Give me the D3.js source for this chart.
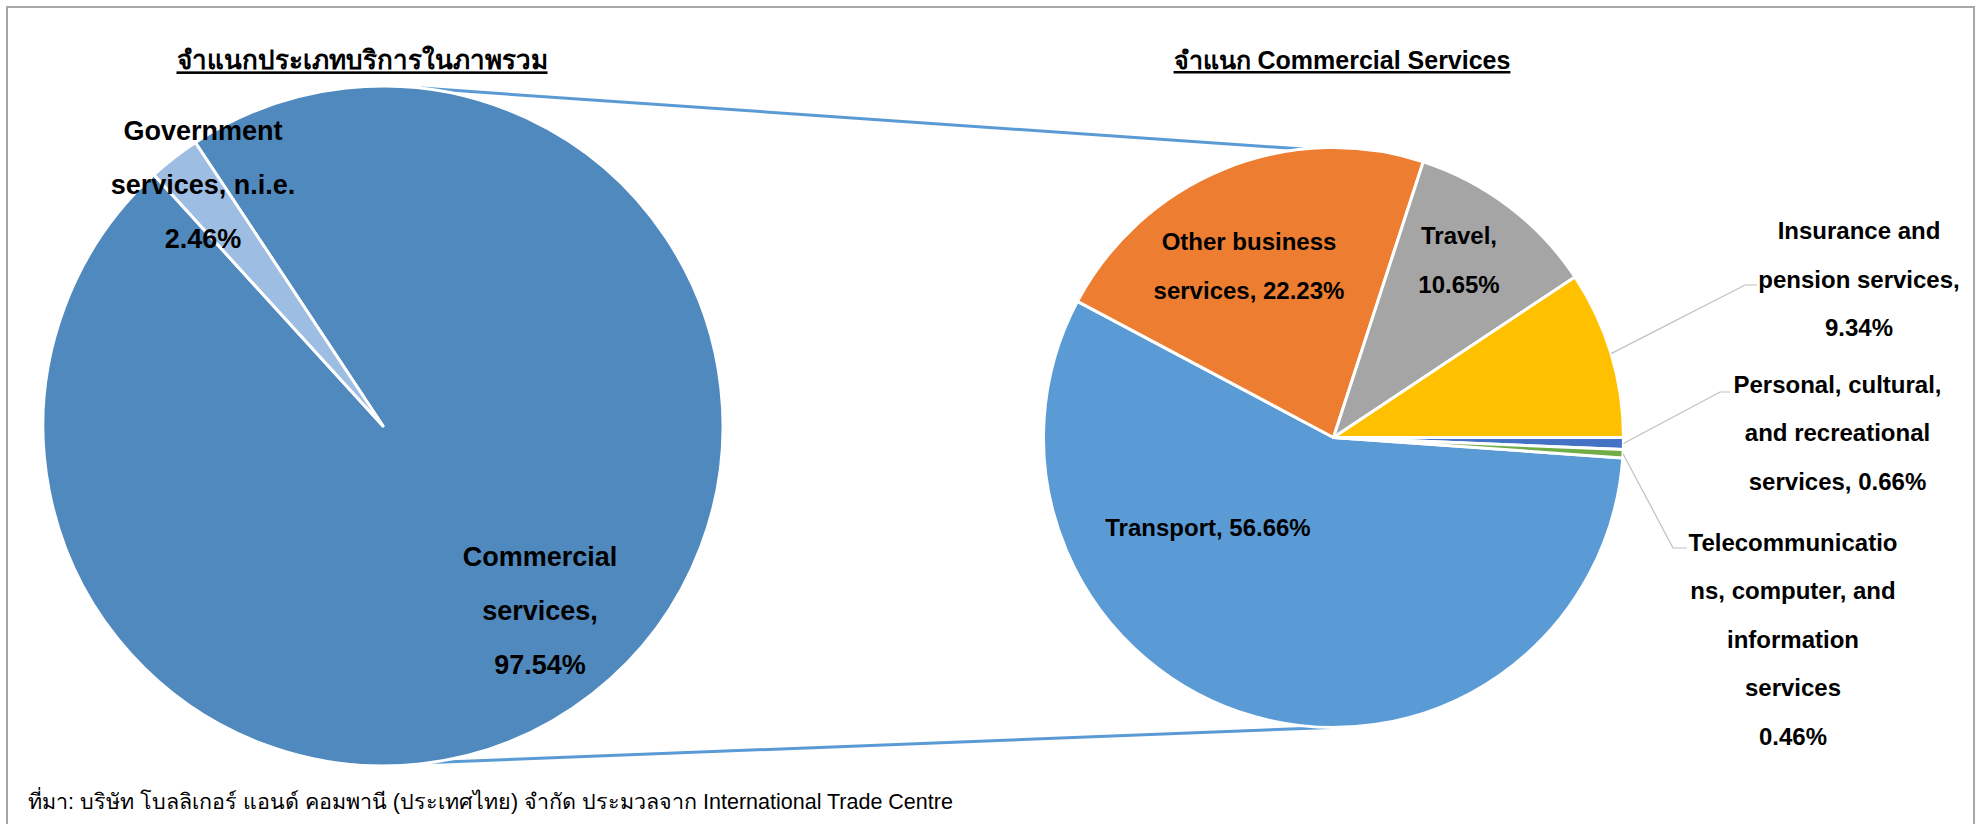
<!DOCTYPE html>
<html>
<head>
<meta charset="utf-8">
<script src="https://cdn.jsdelivr.net/npm/d3@7"></script>
<style>
  body { margin: 0; background: #fff; }
  svg text { font-family: "Liberation Sans", Arial, sans-serif; fill: #000; }
</style>
</head>
<body>
<div class="pie-of-pie"></div>
<script>
// overall split
const overallCategories = ["Commercial services", "Government services, n.i.e."];
const overallValues = [97.54, 2.46];
const overallColors = ["#5089bd", "#9dbde3"];

// commercial services split
const commercialCategories = [
  "Transport",
  "Other business services",
  "Travel",
  "Insurance and pension services",
  "Personal, cultural, and recreational services",
  "Telecommunications, computer, and information services"
];
const commercialValues = [56.66, 22.23, 10.65, 9.34, 0.66, 0.46];
const commercialColors = ["#5b9bd5", "#ed7d31", "#a5a5a5", "#ffc000", "#4472c4", "#70ad47"];

const leftTitle = "จำแนกประเภทบริการในภาพรวม";
const rightTitle = "จำแนก Commercial Services";
const sourceNote = "ที่มา: บริษัท โบลลิเกอร์ แอนด์ คอมพานี (ประเทศไทย) จำกัด ประมวลจาก International Trade Centre";

const pct = v => `${v.toFixed(2)}%`;

// label text, wrapped the way the original wraps it
const overallLabelLines = [
  v => ["Commercial", "services,", pct(v)],
  v => ["Government", "services, n.i.e.", pct(v)]
];
const commercialLabelLines = [
  v => [`Transport,  ${pct(v)}`],
  v => ["Other business", `services, ${pct(v)}`],
  v => ["Travel,", pct(v)],
  v => ["Insurance and", "pension services,", pct(v)],
  v => ["Personal, cultural,", "and recreational", `services, ${pct(v)}`],
  v => ["Telecommunicatio", "ns, computer, and", "information", "services", pct(v)]
];

const width = 1977;
const height = 824;
const deg = Math.PI / 180;

const svg = d3.select(".pie-of-pie")
  .append("svg")
  .attr("width", width)
  .attr("height", height);

// frame (no bottom edge, it runs off the picture)
svg.append("path")
  .attr("d", `M7,${height + 5}V7H1974V${height + 5}`)
  .attr("fill", "none")
  .attr("stroke", "#a6a6a6")
  .attr("stroke-width", 2);

const left = { cx: 383, cy: 426, r: 340, start: 326.5 };
const right = { cx: 1333.5, cy: 437.5, r: 290, start: 94.03 };

const polar = (p, angle, r) => [p.cx + r * Math.sin(angle * deg), p.cy - r * Math.cos(angle * deg)];

// connector lines between the two pies
const connectors = [[6.4, -6.0], [171.8, 180.7]];
svg.append("g")
  .selectAll("line")
  .data(connectors)
  .join("line")
  .attr("x1", d => polar(left, d[0], left.r)[0])
  .attr("y1", d => polar(left, d[0], left.r)[1])
  .attr("x2", d => polar(right, d[1], right.r)[0])
  .attr("y2", d => polar(right, d[1], right.r)[1])
  .attr("stroke", "#5b9bd5")
  .attr("stroke-width", 3);

const drawPie = (p, values, colors) => {
  const pie = d3.pie().sort(null)
    .startAngle(p.start * deg)
    .endAngle(p.start * deg + 2 * Math.PI);
  const arc = d3.arc().innerRadius(0).outerRadius(p.r);
  const arcs = pie(values);
  svg.append("g")
    .attr("transform", `translate(${p.cx},${p.cy})`)
    .selectAll("path")
    .data(arcs)
    .join("path")
    .attr("d", arc)
    .attr("fill", (d, i) => colors[i])
    .attr("stroke", "#fff")
    .attr("stroke-width", 3)
    .attr("stroke-linejoin", "round");
  return arcs;
};

drawPie(left, overallValues, overallColors);
const rightArcs = drawPie(right, commercialValues, commercialColors);

// label block centres, offsets from each pie centre
const overallLabelPos = [[157, 184], [-180, -242]];
const commercialLabelPos = [[-125.5, 89.5], [-84.5, -171.5], [125.5, -177.5], [525.5, -158.5], [504, -5], [459.5, 201.5]];

const drawLabels = (p, values, lines, pos, size, lineGap) => {
  values.forEach((v, i) => {
    const rows = lines[i](v);
    const x = p.cx + pos[i][0];
    const y0 = p.cy + pos[i][1] - (rows.length - 1) * lineGap / 2;
    const t = svg.append("text")
      .attr("text-anchor", "middle")
      .attr("font-size", size)
      .attr("font-weight", "bold");
    rows.forEach((row, j) => {
      t.append("tspan")
        .attr("x", x)
        .attr("y", y0 + j * lineGap)
        .attr("dy", "0.36em")
        .text(row);
    });
  });
};

drawLabels(left, overallValues, overallLabelLines, overallLabelPos, 27, 54);
drawLabels(right, commercialValues, commercialLabelLines, commercialLabelPos, 24, 48.5);

// leader lines for the small outside slices: [slice, elbow x, elbow y, end x]
const leaders = [[3, 1745, 285, 1757], [4, 1720, 392, 1730], [5, 1673, 548, 1687]];
svg.append("g")
  .selectAll("polyline")
  .data(leaders)
  .join("polyline")
  .attr("points", d => {
    const a = rightArcs[d[0]];
    const mid = (a.startAngle + a.endAngle) / 2 / deg;
    const s = polar(right, mid, right.r);
    return [s, [d[1], d[2]], [d[3], d[2]]].map(q => q.join(",")).join(" ");
  })
  .attr("fill", "none")
  .attr("stroke", "#bfbfbf")
  .attr("stroke-width", 1.2);

// titles
svg.append("text")
  .attr("x", 362).attr("y", 60).attr("dy", "0.36em")
  .attr("text-anchor", "middle")
  .attr("font-size", 26)
  .attr("font-weight", "bold")
  .style("text-decoration", "underline")
  .text(leftTitle);

svg.append("text")
  .attr("x", 1342).attr("y", 60).attr("dy", "0.36em")
  .attr("text-anchor", "middle")
  .attr("font-size", 25)
  .attr("font-weight", "bold")
  .style("text-decoration", "underline")
  .text(rightTitle);

svg.append("text")
  .attr("x", 28).attr("y", 801).attr("dy", "0.36em")
  .attr("font-size", 21.5)
  .text(sourceNote);
</script>
</body>
</html>
